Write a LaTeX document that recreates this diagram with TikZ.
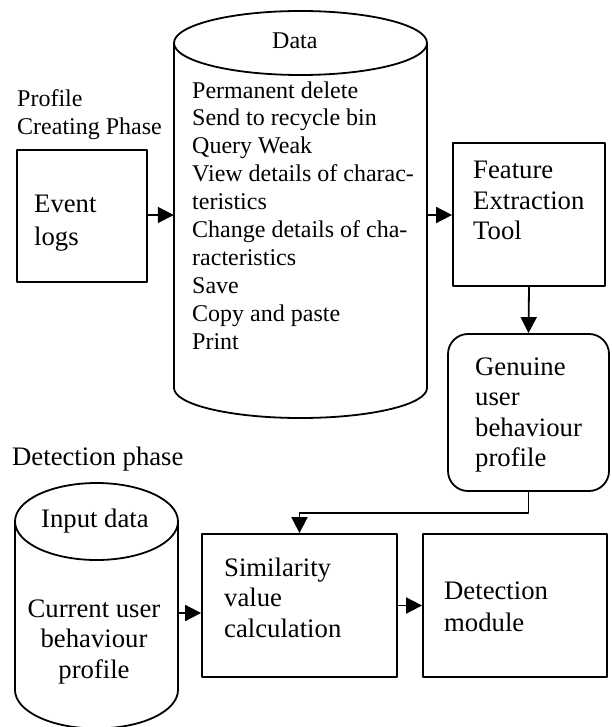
\documentclass[tikz,border=0pt]{standalone}
\usepackage{fontspec}
\setmainfont{Liberation Serif}
\usetikzlibrary{arrows.meta}
\begin{document}
\begin{tikzpicture}[x=1pt,y=-1pt,
  box/.style={draw, line width=1.8pt, inner sep=0pt},
  ghost/.style={inner sep=0pt},
  shp/.style={line width=1.8pt},
  arr/.style={line width=1.8pt, -{Triangle[length=16pt,width=16pt]}},
  big/.style={font=\fontsize{26.7}{30.5}\selectfont, inner sep=0pt, align=left, anchor=base west},
  bigw/.style={font=\fontsize{26.7}{32.5}\selectfont, inner sep=0pt, align=left, anchor=base west},
  small/.style={font=\fontsize{24}{27.9}\selectfont, inner sep=0pt, align=left, anchor=base west},
  line join=round]
\useasboundingbox (0,0) rectangle (611,727);
\clip (0,0) rectangle (611,727);

% boxes
\node[box, minimum width=130pt, minimum height=132pt] (evt) at (82,216) {};
\node[box, minimum width=152pt, minimum height=143pt] (fet) at (529,214.5) {};
\node[box, rounded corners=20pt, minimum width=161pt, minimum height=157pt] (gen) at (528.5,412.5) {};
\node[box, minimum width=195pt, minimum height=143pt] (sim) at (299.5,605.5) {};
\node[box, minimum width=184pt, minimum height=143pt] (det) at (515,605.5) {};

% Data cylinder
\draw[shp] (300.5,43) ellipse [x radius=126.5pt, y radius=32pt];
\draw[shp] (174,43) -- (174,388) arc[start angle=180, end angle=360, x radius=126.5pt, y radius=30pt] -- (427,43);
\node[ghost, minimum width=253pt, minimum height=345pt] (data) at (300.5,215.5) {};

% Input cylinder
\draw[shp] (96.5,521.5) ellipse [x radius=81.5pt, y radius=38.5pt];
\draw[shp] (15,521.5) -- (15,690) arc[start angle=180, end angle=360, x radius=81.5pt, y radius=38.5pt] -- (178,521.5);
\node[ghost, minimum width=163pt, minimum height=168.5pt] (inp) at (96.5,606) {};

% texts (multi-line nodes: base = last line's baseline)
\node[small] (tpcp) at (17,134.9) {Profile\\Creating Phase};
\node[small] (tdata) at (272,49) {Data};
\node[small] (tlist) at (192,349.1) {Permanent delete\\Send to recycle bin\\Query Weak\\View details of charac-\\teristics\\Change details of cha-\\racteristics\\Save\\Copy and paste\\Print};
\node[bigw] (tevt) at (34,245.5) {Event\\logs};
\node[big] (tfet) at (473,240) {Feature\\Extraction\\Tool};
\node[big] (tgen) at (475,466.5) {Genuine\\user\\behaviour\\profile};
\node[big] (tdph) at (12,465) {Detection phase};
\node[big] (tin) at (41,527) {Input data};
\node[big, align=center, anchor=base] (tcur) at (94,678) {Current user\\behaviour\\profile\hspace{14pt}};
\node[big] (tsim) at (224,637) {Similarity\\value\\calculation};
\node[bigw] (tdm) at (444,631.5) {Detection\\module};

% connectors
\draw[arr] (evt.east |- 0,215) -- (data.west |- 0,215);
\draw[arr] (data.east |- 0,215) -- (fet.west |- 0,215);
\draw[arr] (fet.south) -- (gen.north);
\draw[arr] (gen.south) -- ++(0,21) -| (sim.north);
\draw[arr] (inp.east |- 0,613) -- (sim.west |- 0,613);
\draw[arr] (sim.east) -- (det.west);
\end{tikzpicture}
\end{document}
